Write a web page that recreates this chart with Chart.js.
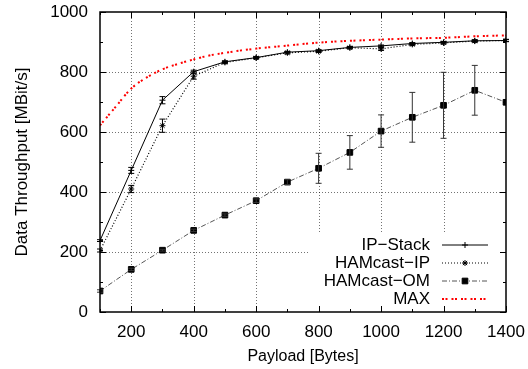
<!DOCTYPE html>
<html>
<head>
<meta charset="utf-8">
<script src="https://cdn.jsdelivr.net/npm/chart.js@4/dist/chart.umd.min.js"></script>
<style>
html,body{margin:0;padding:0;background:#fff;}
canvas{display:block;}
</style>
</head>
<body>
<canvas id="c" width="528" height="369"></canvas>
<script>
// ---- data ----
const payload = [100,200,300,400,500,600,700,800,900,1000,1100,1200,1300,1400];
const ipStack    = [238,472,706,801,834,848,866,871,882,887,895,899,904,905];
const ipStackErr = [3,10,12,5,3,3,3,3,3,3,3,3,3,3];
const hamcastIP    = [205,410,621,786,832,847,864,869,881,877,892,897,903,905];
const hamcastIPErr = [5,12,22,10,4,4,4,4,4,5,4,4,4,4];
const hamcastOM    = [70,142,206,272,323,371,433,479,532,603,649,689,739,699];
const hamcastOMErr = [4,4,3,4,4,6,8,50,56,54,83,110,83,0];
const maxPayload = [100,150,200,250,300,350,400,450,500,600,700,800,900,1000,1100,1200,1300,1400];
const maxRate    = [622,684,745,782,809,827,842,855,864,878,888,898,904,908,912,914,919,922];
const xTicks = [100,200,300,400,500,600,700,800,900,1000,1100,1200,1300,1400];
const seriesNames = ['IP\u2212Stack','HAMcast\u2212IP','HAMcast\u2212OM','MAX'];

const FONT = '"Liberation Sans", Arial, Helvetica, sans-serif';
const pts = (xs, ys) => xs.map((x,i)=>({x:x, y:ys[i]}));

const datasets = [
  {label:seriesNames[0], data:pts(payload, ipStack), errors:ipStackErr, errColor:'#000',
   borderColor:'#000', borderWidth:1, pointStyle:'cross', pointRadius:3, pointBorderWidth:1,
   pointBorderColor:'#000', pointBackgroundColor:'#000', borderDash:[]},
  {label:seriesNames[1], data:pts(payload, hamcastIP), errors:hamcastIPErr, errColor:'#000',
   borderColor:'#000', borderWidth:1.2, pointStyle:'star', pointRadius:3, pointBorderWidth:1,
   pointBorderColor:'#000', pointBackgroundColor:'#000', borderDash:[1,2]},
  {label:seriesNames[2], data:pts(payload, hamcastOM), errors:hamcastOMErr, errColor:'#333',
   borderColor:'#555', borderWidth:1, pointStyle:'rect', pointRadius:4, pointBorderWidth:1,
   pointBorderColor:'#000', pointBackgroundColor:'#000', borderDash:[5,2,1,2]},
  {label:seriesNames[3], data:pts(maxPayload, maxRate),
   borderColor:'#ff0000', borderWidth:2, pointRadius:0, borderDash:[2,1.5,2,4],
   cubicInterpolationMode:'monotone'}
];

const framePlugin = {
  id:'frame',
  beforeDatasetsDraw(chart){
    const {ctx, chartArea:a, scales:{x,y}} = chart;
    ctx.save();
    ctx.strokeStyle = 'rgba(0,0,0,0.55)';
    ctx.lineWidth = 1;
    ctx.setLineDash([1,2]);
    xTicks.forEach(v=>{
      if (v%200===0 && v>x.min && v<x.max){
        const px = Math.round(x.getPixelForValue(v))+0.5;
        ctx.beginPath(); ctx.moveTo(px,a.top); ctx.lineTo(px,a.bottom); ctx.stroke();
      }
    });
    for (let v=200; v<1000; v+=200){
      const py = Math.round(y.getPixelForValue(v))+0.5;
      ctx.beginPath(); ctx.moveTo(a.left,py); ctx.lineTo(a.right,py); ctx.stroke();
    }
    ctx.setLineDash([]);
    // legend background box
    ctx.fillStyle = '#fff';
    ctx.fillRect(310, 234, a.right-310, a.bottom-234);
    ctx.restore();
  },
  afterDatasetsDraw(chart){
    const {ctx, chartArea:a, scales:{x,y}} = chart;
    ctx.save();
    // error bars
    chart.data.datasets.forEach((ds)=>{
      if (!ds.errors) return;
      ctx.strokeStyle = ds.errColor; ctx.lineWidth = 1; ctx.setLineDash([]);
      ds.data.forEach((p,i)=>{
        const e = ds.errors[i]; if (!e) return;
        const px = x.getPixelForValue(p.x);
        const y1 = y.getPixelForValue(p.y+e), y2 = y.getPixelForValue(p.y-e);
        ctx.beginPath();
        ctx.moveTo(px,y1); ctx.lineTo(px,y2);
        ctx.moveTo(px-3,y1); ctx.lineTo(px+3,y1);
        ctx.moveTo(px-3,y2); ctx.lineTo(px+3,y2);
        ctx.stroke();
      });
    });
    // legend
    const rows = [245,263,281,299];
    ctx.font = '17px '+FONT;
    ctx.textAlign = 'right'; ctx.textBaseline = 'middle';
    chart.data.datasets.forEach((ds,i)=>{
      ctx.fillStyle = '#000';
      ctx.fillText(ds.label, 430, rows[i]);
      ctx.strokeStyle = ds.borderColor; ctx.lineWidth = ds.borderWidth;
      ctx.setLineDash(ds.borderDash||[]);
      ctx.beginPath(); ctx.moveTo(442, rows[i]); ctx.lineTo(488, rows[i]); ctx.stroke();
      ctx.setLineDash([]);
      if (ds.pointRadius){
        ctx.strokeStyle = ds.pointBorderColor; ctx.fillStyle = ds.pointBackgroundColor;
        ctx.lineWidth = ds.pointBorderWidth;
        Chart.helpers.drawPoint(ctx, {pointStyle:ds.pointStyle, radius:ds.pointRadius, rotation:0, borderWidth:ds.pointBorderWidth}, 465, rows[i]);
      }
    });
    // frame
    ctx.strokeStyle = '#000'; ctx.lineWidth = 1.5;
    ctx.strokeRect(a.left, a.top, a.right-a.left, a.bottom-a.top);
    // inward tick marks
    ctx.lineWidth = 1;
    ctx.beginPath();
    xTicks.forEach(v=>{
      const px = Math.round(x.getPixelForValue(v))+0.5;
      const len = v%200===0 ? 6 : 3;
      ctx.moveTo(px,a.bottom); ctx.lineTo(px,a.bottom-len);
      ctx.moveTo(px,a.top); ctx.lineTo(px,a.top+len);
    });
    for (let v=0; v<=1000; v+=100){
      const py = Math.round(y.getPixelForValue(v))+0.5;
      const len = v%200===0 ? 6 : 3;
      ctx.moveTo(a.left,py); ctx.lineTo(a.left+len,py);
      ctx.moveTo(a.right,py); ctx.lineTo(a.right-len,py);
    }
    ctx.stroke();
    ctx.restore();
  }
};

new Chart(document.getElementById('c'), {
  type:'line',
  data:{datasets:datasets},
  options:{
    responsive:false,
    animation:false,
    parsing:true,
    layout:{padding:{top:12,right:22,left:0,bottom:0}},
    plugins:{legend:{display:false}, tooltip:{enabled:false}},
    elements:{line:{tension:0}},
    scales:{
      x:{
        type:'linear', min:100, max:1400,
        afterBuildTicks:s=>{ s.ticks = xTicks.map(v=>({value:v})); },
        afterFit:s=>{ s.height = 57; s.paddingLeft = 0; s.paddingRight = 0; },
        grid:{display:false, drawTicks:false},
        border:{display:false},
        ticks:{autoSkip:false, maxRotation:0, padding:10, color:'#000',
               font:{family:FONT,size:17},
               callback:v=> v%200===0 ? String(v) : ''},
        title:{display:true, text:'Payload [Bytes]', color:'#000',
               font:{family:FONT,size:16}, padding:{top:0,bottom:3}}
      },
      y:{
        type:'linear', min:0, max:1000,
        afterFit:s=>{ s.width = 100; s.paddingTop = 0; s.paddingBottom = 0; },
        grid:{display:false, drawTicks:false},
        border:{display:false},
        ticks:{stepSize:100, autoSkip:false, padding:12, color:'#000',
               font:{family:FONT,size:17},
               callback:v=> v%200===0 ? String(v) : ''},
        title:{display:true, text:'Data Throughput [MBit/s]', color:'#000',
               font:{family:FONT,size:17}, padding:{top:12,bottom:0}}
      }
    }
  },
  plugins:[framePlugin]
});
</script>
</body>
</html>
